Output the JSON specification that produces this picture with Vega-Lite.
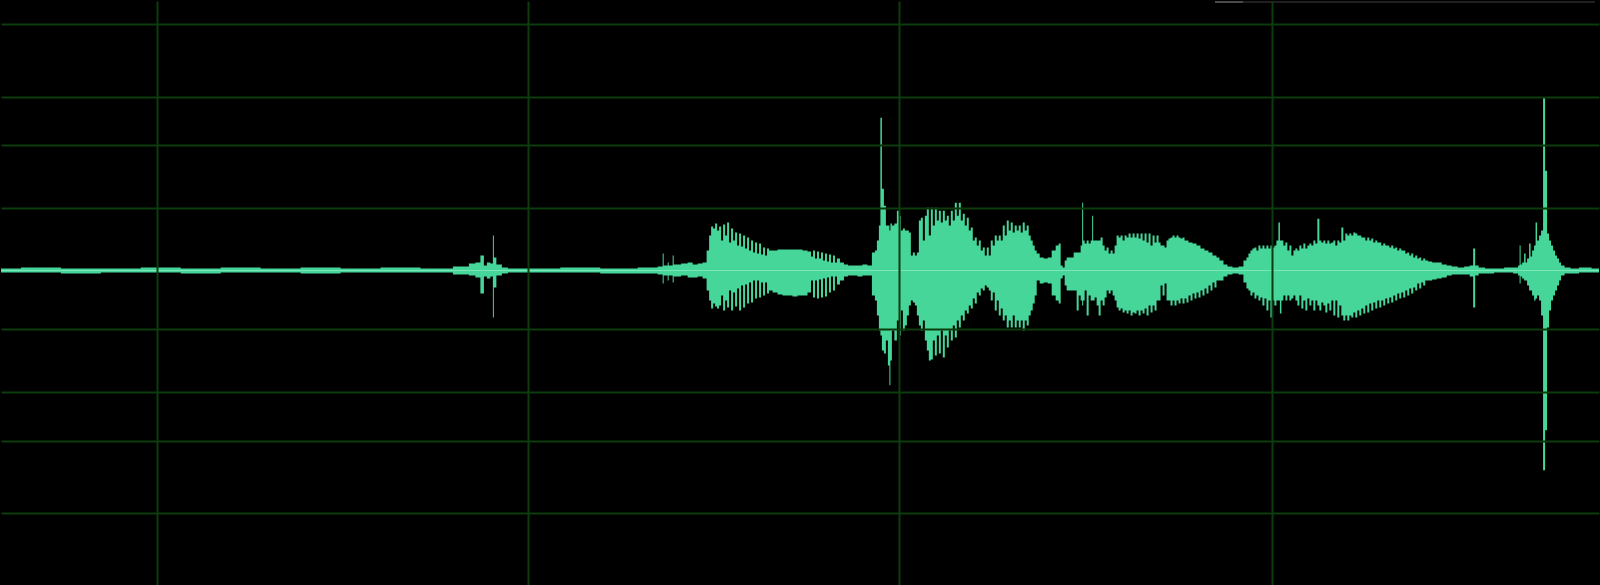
{
  "$schema": "https://vega.github.io/schema/vega-lite/v6.json",
  "width": 1600,
  "height": 585,
  "autosize": {"type": "fit", "contains": "padding"},
  "padding": 0,
  "background": "#000000",
  "config": {"view": {"stroke": null}},
  "data": {"values": [
    {"x":0,"hi":2,"lo":-2},{"x":40,"hi":3,"lo":-2},{"x":80,"hi":2,"lo":-3},{"x":120,"hi":2,"lo":-2},{"x":160,"hi":3,"lo":-2},{"x":200,"hi":2,"lo":-3},{"x":240,"hi":3,"lo":-2},{"x":280,"hi":2,"lo":-2},{"x":320,"hi":3,"lo":-3},{"x":360,"hi":2,"lo":-2},{"x":400,"hi":3,"lo":-2},{"x":440,"hi":2,"lo":-2},
    {"x":465,"hi":4,"lo":-4},{"x":472,"hi":7,"lo":-5},{"x":478,"hi":8,"lo":-7},{"x":482,"hi":15,"lo":-23},{"x":485,"hi":5,"lo":-6},{"x":488,"hi":8,"lo":-8},{"x":492,"hi":7,"lo":-6},{"x":493,"hi":35,"lo":-47},{"x":494,"hi":13,"lo":-17},{"x":498,"hi":6,"lo":-5},{"x":505,"hi":3,"lo":-3},{"x":510,"hi":2,"lo":-2},
    {"x":540,"hi":2,"lo":-2},{"x":580,"hi":3,"lo":-2},{"x":620,"hi":2,"lo":-3},{"x":655,"hi":3,"lo":-3},{"x":660,"hi":4,"lo":-4},
    {"x":662,"hi":4,"lo":-4},{"x":663,"hi":17,"lo":-13},{"x":664,"hi":5,"lo":-5},{"x":667,"hi":5,"lo":-5},{"x":668,"hi":8,"lo":-10},{"x":669,"hi":5,"lo":-5},{"x":672,"hi":5,"lo":-5},{"x":673,"hi":15,"lo":-12},{"x":674,"hi":6,"lo":-6},{"x":677,"hi":6,"lo":-6},{"x":685,"hi":7,"lo":-5},{"x":690,"hi":8,"lo":-7},{"x":695,"hi":6,"lo":-7},{"x":700,"hi":7,"lo":-6},{"x":705,"hi":8,"lo":-8},{"x":708,"hi":20,"lo":-20},
    {"x":710,"hi":35,"lo":-30},{"x":712,"hi":44,"lo":-38},{"x":714,"hi":42,"lo":-33},{"x":716,"hi":47,"lo":-36},{"x":718,"hi":40,"lo":-38},{"x":720,"hi":44,"lo":-35},{"x":722,"hi":30,"lo":-25},{"x":724,"hi":46,"lo":-40},{"x":726,"hi":35,"lo":-30},{"x":728,"hi":48,"lo":-37},{"x":730,"hi":28,"lo":-20},{"x":732,"hi":42,"lo":-40},{"x":734,"hi":30,"lo":-22},{"x":736,"hi":38,"lo":-36},{"x":738,"hi":25,"lo":-18},{"x":740,"hi":37,"lo":-40},{"x":742,"hi":24,"lo":-15},{"x":744,"hi":35,"lo":-37},{"x":746,"hi":22,"lo":-14},{"x":748,"hi":33,"lo":-33},{"x":750,"hi":20,"lo":-12},{"x":752,"hi":30,"lo":-32},{"x":754,"hi":18,"lo":-10},{"x":756,"hi":28,"lo":-28},{"x":758,"hi":17,"lo":-10},{"x":760,"hi":27,"lo":-27},{"x":762,"hi":16,"lo":-12},{"x":764,"hi":23,"lo":-25},{"x":766,"hi":15,"lo":-12},{"x":768,"hi":22,"lo":-23},{"x":770,"hi":20,"lo":-20},{"x":775,"hi":20,"lo":-22},{"x":780,"hi":21,"lo":-24},{"x":785,"hi":21,"lo":-25},{"x":790,"hi":21,"lo":-25},{"x":795,"hi":21,"lo":-26},{"x":800,"hi":21,"lo":-25},{"x":805,"hi":20,"lo":-25},{"x":810,"hi":19,"lo":-22},
    {"x":812,"hi":14,"lo":-10},{"x":814,"hi":20,"lo":-27},{"x":816,"hi":12,"lo":-10},{"x":818,"hi":19,"lo":-28},{"x":820,"hi":12,"lo":-9},{"x":822,"hi":18,"lo":-27},{"x":824,"hi":10,"lo":-8},{"x":826,"hi":17,"lo":-26},{"x":828,"hi":9,"lo":-7},{"x":830,"hi":16,"lo":-22},{"x":832,"hi":8,"lo":-6},{"x":834,"hi":15,"lo":-20},{"x":836,"hi":8,"lo":-6},{"x":838,"hi":12,"lo":-14},{"x":842,"hi":8,"lo":-10},{"x":846,"hi":6,"lo":-6},{"x":850,"hi":5,"lo":-5},{"x":855,"hi":5,"lo":-5},{"x":860,"hi":5,"lo":-6},{"x":865,"hi":6,"lo":-5},{"x":870,"hi":5,"lo":-5},
    {"x":874,"hi":18,"lo":-25},{"x":876,"hi":20,"lo":-30},{"x":878,"hi":30,"lo":-45},{"x":880,"hi":45,"lo":-60},{"x":881,"hi":153,"lo":-65},{"x":883,"hi":82,"lo":-80},{"x":885,"hi":65,"lo":-83},{"x":887,"hi":45,"lo":-70},{"x":889,"hi":45,"lo":-95},{"x":890,"hi":40,"lo":-115},{"x":891,"hi":47,"lo":-90},{"x":893,"hi":45,"lo":-60},{"x":896,"hi":47,"lo":-70},{"x":898,"hi":60,"lo":-50},{"x":900,"hi":55,"lo":-65},{"x":902,"hi":40,"lo":-40},{"x":904,"hi":42,"lo":-60},{"x":906,"hi":40,"lo":-55},{"x":908,"hi":40,"lo":-45},{"x":910,"hi":38,"lo":-35},{"x":912,"hi":15,"lo":-30},{"x":914,"hi":18,"lo":-32},{"x":916,"hi":15,"lo":-35},{"x":918,"hi":18,"lo":-45},{"x":920,"hi":50,"lo":-55},{"x":922,"hi":53,"lo":-60},{"x":924,"hi":30,"lo":-50},{"x":926,"hi":55,"lo":-70},{"x":928,"hi":63,"lo":-80},{"x":930,"hi":35,"lo":-90},{"x":932,"hi":63,"lo":-89},{"x":934,"hi":45,"lo":-70},{"x":936,"hi":63,"lo":-85},{"x":938,"hi":50,"lo":-65},{"x":940,"hi":60,"lo":-83},{"x":942,"hi":48,"lo":-60},{"x":944,"hi":60,"lo":-87},{"x":946,"hi":50,"lo":-65},{"x":948,"hi":55,"lo":-77},{"x":950,"hi":45,"lo":-60},{"x":952,"hi":60,"lo":-70},{"x":954,"hi":50,"lo":-55},{"x":956,"hi":68,"lo":-67},{"x":958,"hi":55,"lo":-50},{"x":960,"hi":68,"lo":-57},{"x":962,"hi":50,"lo":-45},{"x":964,"hi":57,"lo":-50},{"x":966,"hi":45,"lo":-40},{"x":968,"hi":53,"lo":-43},{"x":970,"hi":40,"lo":-35},{"x":972,"hi":43,"lo":-38},{"x":974,"hi":30,"lo":-28},{"x":976,"hi":33,"lo":-33},{"x":978,"hi":25,"lo":-22},{"x":980,"hi":30,"lo":-25},{"x":982,"hi":20,"lo":-18},{"x":984,"hi":23,"lo":-20},{"x":986,"hi":15,"lo":-15},{"x":988,"hi":23,"lo":-17},{"x":990,"hi":15,"lo":-20},{"x":992,"hi":30,"lo":-30},{"x":994,"hi":25,"lo":-22},{"x":996,"hi":35,"lo":-40},{"x":998,"hi":30,"lo":-30},{"x":1000,"hi":35,"lo":-45},{"x":1002,"hi":30,"lo":-38},{"x":1004,"hi":45,"lo":-50},{"x":1006,"hi":35,"lo":-45},{"x":1008,"hi":50,"lo":-57},{"x":1010,"hi":40,"lo":-50},{"x":1012,"hi":48,"lo":-57},{"x":1014,"hi":38,"lo":-45},{"x":1016,"hi":45,"lo":-57},{"x":1018,"hi":40,"lo":-50},{"x":1020,"hi":45,"lo":-57},{"x":1022,"hi":38,"lo":-50},{"x":1024,"hi":48,"lo":-60},{"x":1026,"hi":40,"lo":-50},{"x":1028,"hi":45,"lo":-55},{"x":1030,"hi":35,"lo":-45},{"x":1032,"hi":30,"lo":-40},{"x":1034,"hi":25,"lo":-33},{"x":1036,"hi":20,"lo":-25},{"x":1038,"hi":17,"lo":-10},{"x":1042,"hi":13,"lo":-13},{"x":1046,"hi":12,"lo":-12},{"x":1050,"hi":13,"lo":-13},{"x":1054,"hi":20,"lo":-25},{"x":1058,"hi":25,"lo":-30},
    {"x":1060,"hi":27,"lo":-33},{"x":1062,"hi":5,"lo":-8},{"x":1064,"hi":3,"lo":-5},{"x":1066,"hi":10,"lo":-15},{"x":1068,"hi":13,"lo":-20},{"x":1072,"hi":13,"lo":-20},{"x":1076,"hi":18,"lo":-20},{"x":1078,"hi":18,"lo":-40},{"x":1080,"hi":18,"lo":-25},{"x":1082,"hi":25,"lo":-30},{"x":1083,"hi":68,"lo":-35},{"x":1084,"hi":30,"lo":-30},{"x":1086,"hi":27,"lo":-20},{"x":1088,"hi":30,"lo":-45},{"x":1090,"hi":27,"lo":-25},{"x":1092,"hi":30,"lo":-30},{"x":1093,"hi":55,"lo":-30},{"x":1094,"hi":30,"lo":-30},{"x":1096,"hi":30,"lo":-27},{"x":1098,"hi":30,"lo":-35},{"x":1100,"hi":30,"lo":-45},{"x":1102,"hi":33,"lo":-30},{"x":1104,"hi":25,"lo":-35},{"x":1106,"hi":20,"lo":-27},{"x":1108,"hi":23,"lo":-20},{"x":1110,"hi":17,"lo":-23},{"x":1112,"hi":20,"lo":-20},{"x":1114,"hi":17,"lo":-25},{"x":1116,"hi":25,"lo":-30},{"x":1118,"hi":35,"lo":-37},{"x":1120,"hi":33,"lo":-40},{"x":1122,"hi":35,"lo":-38},{"x":1124,"hi":30,"lo":-42},{"x":1126,"hi":35,"lo":-40},{"x":1128,"hi":33,"lo":-43},{"x":1130,"hi":37,"lo":-40},{"x":1132,"hi":33,"lo":-45},{"x":1134,"hi":37,"lo":-42},{"x":1136,"hi":33,"lo":-43},{"x":1138,"hi":37,"lo":-40},{"x":1140,"hi":32,"lo":-45},{"x":1142,"hi":37,"lo":-40},{"x":1144,"hi":30,"lo":-43},{"x":1146,"hi":37,"lo":-38},{"x":1148,"hi":28,"lo":-45},{"x":1150,"hi":37,"lo":-35},{"x":1152,"hi":25,"lo":-42},{"x":1154,"hi":35,"lo":-35},{"x":1156,"hi":28,"lo":-40},{"x":1158,"hi":35,"lo":-30},{"x":1160,"hi":28,"lo":-30},{"x":1162,"hi":25,"lo":-15},{"x":1164,"hi":25,"lo":-25},{"x":1166,"hi":23,"lo":-13},{"x":1168,"hi":30,"lo":-30},{"x":1170,"hi":32,"lo":-30},{"x":1172,"hi":33,"lo":-35},{"x":1174,"hi":35,"lo":-30},{"x":1176,"hi":33,"lo":-35},{"x":1178,"hi":35,"lo":-30},{"x":1180,"hi":33,"lo":-33},{"x":1182,"hi":32,"lo":-28},{"x":1184,"hi":33,"lo":-33},{"x":1186,"hi":30,"lo":-28},{"x":1188,"hi":30,"lo":-32},{"x":1190,"hi":28,"lo":-25},{"x":1192,"hi":28,"lo":-30},{"x":1194,"hi":27,"lo":-23},{"x":1196,"hi":27,"lo":-28},{"x":1198,"hi":25,"lo":-22},{"x":1200,"hi":25,"lo":-27},{"x":1202,"hi":22,"lo":-20},{"x":1204,"hi":22,"lo":-25},{"x":1206,"hi":20,"lo":-18},{"x":1208,"hi":20,"lo":-23},{"x":1210,"hi":18,"lo":-15},{"x":1212,"hi":18,"lo":-20},{"x":1214,"hi":15,"lo":-12},{"x":1216,"hi":15,"lo":-17},{"x":1218,"hi":13,"lo":-10},{"x":1222,"hi":10,"lo":-10},{"x":1226,"hi":6,"lo":-6},{"x":1230,"hi":4,"lo":-4},{"x":1236,"hi":3,"lo":-3},{"x":1242,"hi":4,"lo":-4},
    {"x":1246,"hi":10,"lo":-12},{"x":1248,"hi":13,"lo":-18},{"x":1250,"hi":17,"lo":-20},{"x":1252,"hi":20,"lo":-25},{"x":1254,"hi":22,"lo":-22},{"x":1256,"hi":23,"lo":-28},{"x":1258,"hi":20,"lo":-25},{"x":1260,"hi":25,"lo":-30},{"x":1262,"hi":22,"lo":-27},{"x":1264,"hi":25,"lo":-35},{"x":1266,"hi":22,"lo":-28},{"x":1268,"hi":25,"lo":-40},{"x":1270,"hi":22,"lo":-30},{"x":1272,"hi":25,"lo":-47},{"x":1274,"hi":23,"lo":-30},{"x":1276,"hi":25,"lo":-35},{"x":1278,"hi":30,"lo":-30},{"x":1280,"hi":48,"lo":-30},{"x":1281,"hi":30,"lo":-43},{"x":1283,"hi":30,"lo":-30},{"x":1285,"hi":25,"lo":-25},{"x":1287,"hi":28,"lo":-30},{"x":1289,"hi":20,"lo":-25},{"x":1291,"hi":25,"lo":-30},{"x":1293,"hi":15,"lo":-28},{"x":1295,"hi":20,"lo":-25},{"x":1297,"hi":22,"lo":-30},{"x":1299,"hi":20,"lo":-35},{"x":1301,"hi":25,"lo":-25},{"x":1303,"hi":22,"lo":-38},{"x":1305,"hi":27,"lo":-30},{"x":1307,"hi":22,"lo":-40},{"x":1309,"hi":25,"lo":-28},{"x":1311,"hi":27,"lo":-35},{"x":1313,"hi":25,"lo":-30},{"x":1315,"hi":30,"lo":-40},{"x":1317,"hi":27,"lo":-30},{"x":1319,"hi":52,"lo":-35},{"x":1321,"hi":30,"lo":-40},{"x":1323,"hi":28,"lo":-32},{"x":1325,"hi":30,"lo":-35},{"x":1327,"hi":27,"lo":-42},{"x":1329,"hi":30,"lo":-33},{"x":1331,"hi":27,"lo":-40},{"x":1333,"hi":28,"lo":-30},{"x":1335,"hi":30,"lo":-45},{"x":1337,"hi":25,"lo":-30},{"x":1339,"hi":30,"lo":-47},{"x":1341,"hi":28,"lo":-35},{"x":1343,"hi":43,"lo":-45},{"x":1345,"hi":30,"lo":-50},{"x":1347,"hi":37,"lo":-45},{"x":1349,"hi":35,"lo":-50},{"x":1351,"hi":37,"lo":-45},{"x":1353,"hi":35,"lo":-47},{"x":1355,"hi":38,"lo":-42},{"x":1357,"hi":37,"lo":-47},{"x":1359,"hi":35,"lo":-40},{"x":1361,"hi":35,"lo":-45},{"x":1363,"hi":33,"lo":-38},{"x":1365,"hi":33,"lo":-43},{"x":1367,"hi":30,"lo":-35},{"x":1369,"hi":33,"lo":-42},{"x":1371,"hi":30,"lo":-33},{"x":1373,"hi":32,"lo":-40},{"x":1375,"hi":28,"lo":-32},{"x":1377,"hi":30,"lo":-38},{"x":1379,"hi":28,"lo":-30},{"x":1381,"hi":28,"lo":-37},{"x":1383,"hi":25,"lo":-30},{"x":1385,"hi":27,"lo":-35},{"x":1387,"hi":25,"lo":-28},{"x":1389,"hi":25,"lo":-33},{"x":1391,"hi":23,"lo":-27},{"x":1393,"hi":25,"lo":-32},{"x":1395,"hi":22,"lo":-25},{"x":1397,"hi":23,"lo":-30},{"x":1399,"hi":20,"lo":-23},{"x":1401,"hi":22,"lo":-28},{"x":1403,"hi":20,"lo":-22},{"x":1405,"hi":20,"lo":-27},{"x":1407,"hi":17,"lo":-20},{"x":1409,"hi":18,"lo":-25},{"x":1411,"hi":15,"lo":-18},{"x":1413,"hi":17,"lo":-23},{"x":1415,"hi":13,"lo":-17},{"x":1417,"hi":15,"lo":-20},{"x":1419,"hi":12,"lo":-13},{"x":1421,"hi":13,"lo":-18},{"x":1423,"hi":10,"lo":-12},{"x":1425,"hi":12,"lo":-15},{"x":1427,"hi":10,"lo":-10},{"x":1431,"hi":9,"lo":-10},{"x":1435,"hi":8,"lo":-9},{"x":1440,"hi":8,"lo":-8},{"x":1445,"hi":6,"lo":-7},{"x":1450,"hi":5,"lo":-5},{"x":1455,"hi":4,"lo":-4},{"x":1462,"hi":3,"lo":-4},{"x":1468,"hi":4,"lo":-4},{"x":1473,"hi":5,"lo":-6},{"x":1475,"hi":22,"lo":-37},{"x":1477,"hi":5,"lo":-5},{"x":1482,"hi":3,"lo":-3},{"x":1490,"hi":2,"lo":-3},{"x":1500,"hi":2,"lo":-2},{"x":1510,"hi":3,"lo":-2},{"x":1518,"hi":3,"lo":-3},
    {"x":1520,"hi":5,"lo":-5},{"x":1521,"hi":25,"lo":-13},{"x":1522,"hi":6,"lo":-6},{"x":1524,"hi":8,"lo":-8},{"x":1526,"hi":17,"lo":-10},{"x":1527,"hi":8,"lo":-10},{"x":1529,"hi":12,"lo":-15},{"x":1531,"hi":27,"lo":-20},{"x":1532,"hi":14,"lo":-20},{"x":1534,"hi":20,"lo":-25},{"x":1536,"hi":25,"lo":-30},{"x":1537,"hi":48,"lo":-28},{"x":1539,"hi":30,"lo":-25},{"x":1541,"hi":35,"lo":-30},{"x":1543,"hi":40,"lo":-45},{"x":1545,"hi":173,"lo":-200},{"x":1547,"hi":100,"lo":-160},{"x":1549,"hi":37,"lo":-57},{"x":1551,"hi":30,"lo":-40},{"x":1553,"hi":25,"lo":-30},{"x":1555,"hi":20,"lo":-25},{"x":1557,"hi":15,"lo":-20},{"x":1559,"hi":12,"lo":-15},{"x":1561,"hi":8,"lo":-10},{"x":1563,"hi":5,"lo":-5},{"x":1568,"hi":3,"lo":-3},{"x":1575,"hi":2,"lo":-3},{"x":1585,"hi":3,"lo":-2},{"x":1600,"hi":2,"lo":-2}
  ]},
  "layer": [
    {
      "mark": {"type": "area", "interpolate": "step", "color": "#46d699", "opacity": 1},
      "encoding": {
        "x": {"field": "x", "type": "quantitative", "scale": {"domain": [0, 1600], "nice": false, "zero": false},
              "axis": {"values": [156, 528, 899, 1273], "grid": true, "gridColor": "#0c3c0c", "gridWidth": 2, "gridOpacity": 1, "zindex": 1, "labels": false, "ticks": false, "domain": false, "title": null, "minExtent": 0, "maxExtent": 0, "offset": 0}},
        "y": {"field": "hi", "type": "quantitative", "scale": {"domain": [-315, 270], "nice": false, "zero": false},
              "axis": {"values": [247.3, 174.3, 125.7, 62.5, -58.7, -121.7, -170.5, -243], "grid": true, "gridColor": "#0c3c0c", "gridWidth": 2, "gridOpacity": 1, "zindex": 1, "labels": false, "ticks": false, "domain": false, "title": null, "minExtent": 0, "maxExtent": 0, "offset": 0}},
        "y2": {"field": "lo"}
      }
    },
    {
      "mark": {"type": "rule", "color": "#7ce6b8", "strokeWidth": 1, "opacity": 0.4},
      "encoding": {"y": {"datum": 0, "type": "quantitative"}}
    },
    {
      "mark": {"type": "rule", "color": "#1f1f1f", "strokeWidth": 2},
      "encoding": {"x": {"datum": 1243, "type": "quantitative"}, "x2": {"datum": 1596}, "y": {"datum": 269, "type": "quantitative"}}
    },
    {
      "mark": {"type": "rule", "color": "#4a4a4a", "strokeWidth": 2},
      "encoding": {"x": {"datum": 1216, "type": "quantitative"}, "x2": {"datum": 1243}, "y": {"datum": 269, "type": "quantitative"}}
    }
  ]
}
